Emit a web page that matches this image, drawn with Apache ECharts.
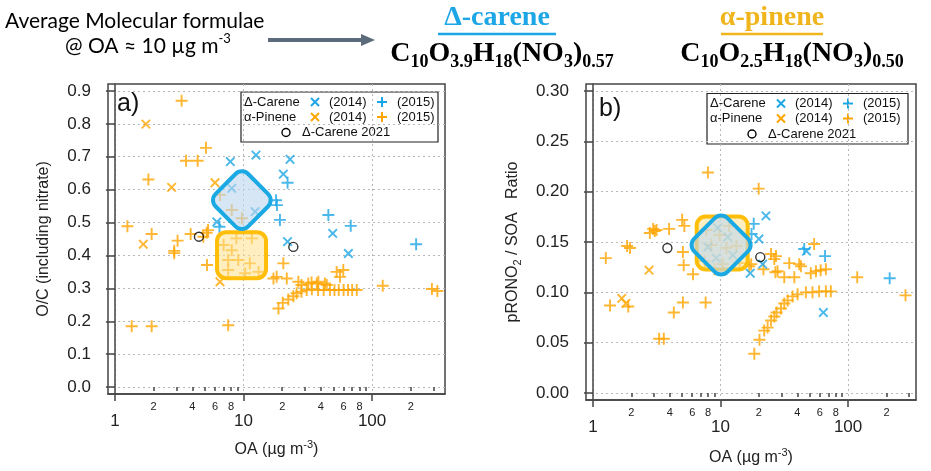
<!DOCTYPE html>
<html>
<head>
<meta charset="utf-8">
<title>O/C and pRONO2/SOA vs OA</title>
<script src="https://cdn.jsdelivr.net/npm/echarts@6/dist/echarts.min.js"></script>
<style>
  html, body { margin: 0; padding: 0; background: #fff; }
  #chart { width: 931px; height: 471px; }
</style>
</head>
<body>
<div id="chart"></div>
<script>
// ticks (OA axes are drawn in log10 space)
var majorTickOA = [1, 10, 100];
var minorTickOA = [2, 3, 4, 5, 6, 7, 8, 9, 20, 30, 40, 50, 60, 70, 80, 90, 200, 300];
var minorLabelOA = [2, 4, 6, 8, 20, 40, 60, 80, 200];
var ocTicks = [0, 0.1, 0.2, 0.3, 0.4, 0.5, 0.6, 0.7, 0.8, 0.9];
var ratioTicks = [0, 0.05, 0.1, 0.15, 0.2, 0.25, 0.3];

// panel a : O/C vs OA
var aCareneX2014 = [[7.9,0.685],[12.5,0.705],[20.4,0.647],[23,0.692],[8.1,0.604],[12.3,0.533],
  [6.2,0.502],[22,0.442],[49.4,0.467],[65.4,0.406]];
var aCareneP2015 = [[22,0.621],[17.9,0.568],[18.2,0.553],[19.2,0.508],[6.5,0.487],[45.7,0.523],
  [68.2,0.49],[220,0.434]];
var aPineneX2014 = [[1.74,0.799],[2.76,0.607],[6.0,0.621],[1.66,0.434],[6.56,0.32]];
var aPineneP2015 = [[3.3,0.87],[1.82,0.631],[5.1,0.727],[3.57,0.688],[4.4,0.688],[1.25,0.489],
  [1.93,0.465],[3.07,0.445],[3.88,0.465],[5.17,0.469],[4.87,0.457],[5.3,0.477],[2.89,0.414],
  [2.89,0.407],[5.2,0.371],[1.35,0.185],[1.93,0.185],[7.6,0.188],
  [6.56,0.584],[8.1,0.538],[9.7,0.513],
  [7.0,0.432],[8.1,0.416],[7.6,0.386],[9.1,0.386],[11.2,0.376],[7.6,0.356],[10.3,0.346],
  [13.1,0.35],[8.8,0.452],[11.6,0.452],
  [20.4,0.376],[18.1,0.335],[21.7,0.33],[17.1,0.33],[26.7,0.32],[28.2,0.31],[31.9,0.315],
  [33.8,0.318],[37.1,0.315],[38.2,0.32],[43,0.315],[44.4,0.31],[53,0.35],[59.7,0.356],[56.3,0.335],
  [18.7,0.239],[20.2,0.256],[22.3,0.266],[24.4,0.276],[25.9,0.285],[28.2,0.29],[31,0.295],[34,0.297],
  [38,0.295],[42,0.295],[47,0.295],[51,0.295],[55,0.295],[60,0.295],[65,0.295],[70,0.295],[76,0.295],
  [121,0.308],[292,0.298],[322,0.292]];
var aCarene2021 = [[4.5,0.457],[24.4,0.426]];
var aCareneAvg = [9.7, 0.568];
var aPineneAvg = [9.65, 0.401];

// panel b : pRONO2 / SOA ratio vs OA
var bCareneX2014 = [[22.7,0.176],[20,0.153],[21.4,0.128],[17.1,0.119],[47.2,0.141],[64,0.08],
  [7.96,0.145],[11.4,0.155],[12.5,0.137],[9.25,0.134],[9.5,0.164]];
var bCareneP2015 = [[18.2,0.168],[17.5,0.158],[45.3,0.143],[66,0.136],[212,0.114]];
var bPineneX2014 = [[2.75,0.122],[1.68,0.094],[1.81,0.089]];
var bPineneP2015 = [[7.96,0.219],[1.26,0.134],[1.85,0.146],[1.95,0.144],[2.79,0.159],[2.96,0.163],
  [3.05,0.161],[3.15,0.162],[3.95,0.163],[5.0,0.172],[5.2,0.166],[5.07,0.14],[5.14,0.127],[6.08,0.118],
  [1.36,0.087],[1.89,0.086],[3.3,0.054],[3.59,0.054],[4.3,0.08],[5.07,0.09],[7.64,0.09],
  [7.73,0.162],[9.82,0.157],[8.46,0.147],[11.1,0.144],[13.3,0.146],[7.5,0.131],[10.4,0.128],
  [14.1,0.129],[8.98,0.123],[11.7,0.166],
  [19.9,0.203],[17.4,0.128],[21.7,0.123],[24.9,0.138],[27.2,0.136],[26.4,0.133],[26.9,0.12],
  [31.6,0.115],[37.9,0.115],[34.6,0.129],[42.7,0.126],[54.2,0.148],[51,0.119],[56,0.121],[61,0.122],
  [67,0.123],[118,0.115],[282,0.097],[16.8,0.126],[28,0.121],[41.4,0.128],
  [18.4,0.039],[20.2,0.053],[22,0.062],[23.4,0.065],[24.9,0.072],[26.4,0.076],[27.5,0.08],[29.8,0.084],
  [31.6,0.089],[33.6,0.092],[36.7,0.096],[40.2,0.098],[46.7,0.1],[52.6,0.1],[59.3,0.101],[67,0.101],[73.3,0.101]];
var bCarene2021 = [[3.83,0.144],[20.5,0.135]];
var bCareneAvg = [10.1, 0.147];
var bPineneAvg = [10.3, 0.149];

var FONT = 'Liberation Sans';
var BLUE = '#1DA6E6', ORANGE = '#FFA500', GOLD = '#F0B41C';
var BOX_BLUE = '#1BA9E3', BOX_GOLD = '#FFBE0A';
var PLUS = 'path://M42,0h16v42h42v16h-42v42h-16v-42h-42v-16h42z';
var AX = {color: '#444', width: 1.5};
var GRIDLINE = {type: [2, 3], color: '#b8b8b8', width: 1};

function lg(pts) { return pts.map(function (p) { return [Math.log10(p[0]), p[1]]; }); }
function lg1(vals) { return vals.map(function (v) { return Math.log10(v); }); }

function scatter(grid, data, kind, color) {
  var s = {type: 'scatter', xAxisIndex: grid * 2, yAxisIndex: grid, data: lg(data),
    silent: true, animation: false, z: 3};
  if (kind === 'plus') {
    s.symbol = PLUS; s.symbolSize = 12; s.itemStyle = {color: color};
  } else if (kind === 'cross') {
    s.symbol = PLUS; s.symbolSize = 12; s.symbolRotate = 45; s.itemStyle = {color: color};
  } else {
    s.symbol = 'circle'; s.symbolSize = 9; s.z = 4;
    s.itemStyle = {color: 'rgba(0,0,0,0)', borderColor: '#000', borderWidth: 1.4};
  }
  return s;
}

// average-composition marker (rounded square, optionally turned 45 deg)
function avgShape(grid, center, w, h, rot, stroke, fill, z) {
  return {type: 'custom', xAxisIndex: grid * 2, yAxisIndex: grid, silent: true, animation: false,
    z: z, data: lg([center]),
    renderItem: function (params, api) {
      var c = api.coord([api.value(0), api.value(1)]);
      return {type: 'rect', x: c[0], y: c[1], rotation: rot,
        shape: {x: -w / 2, y: -h / 2, width: w, height: h, r: 9},
        style: {fill: fill, stroke: stroke, lineWidth: 4}};
    }};
}

// sub/superscripts: padding on top pushes a token down, on bottom pushes it up
var NAME_RICH = {
  n: {fontSize: 16, fontFamily: FONT, color: '#222'},
  sup: {fontSize: 11, fontFamily: FONT, color: '#222', padding: [0, 0, 11, 0]},
  sub: {fontSize: 11, fontFamily: FONT, color: '#222', padding: [10, 0, 0, 0]}
};

function xAxes(grid, min, max, nameGap) {
  var lmin = Math.log10(min), lmax = Math.log10(max);
  return [{
    gridIndex: grid, type: 'value', position: 'bottom', min: lmin, max: lmax,
    name: '{n|OA (µg m}{sup|-3}{n|)}', nameLocation: 'middle', nameGap: nameGap,
    nameTextStyle: {rich: NAME_RICH},
    axisLine: {show: true, onZero: false, lineStyle: AX},
    axisTick: {show: true, length: 7, customValues: lg1(majorTickOA), lineStyle: AX},
    axisLabel: {customValues: lg1(majorTickOA), fontSize: 17, fontFamily: FONT, color: '#222', margin: 19,
      formatter: function (v) { return String(Math.round(Math.pow(10, v))); }},
    splitLine: {show: true, lineStyle: GRIDLINE}
  }, {
    gridIndex: grid, type: 'value', position: 'bottom', min: lmin, max: lmax,
    axisLine: {show: false},
    axisTick: {show: true, length: 4, customValues: lg1(minorTickOA), lineStyle: AX},
    axisLabel: {customValues: lg1(minorLabelOA), fontSize: 11, fontFamily: FONT, color: '#222', margin: 7,
      formatter: function (v) { return String(Math.round(Math.pow(10, v))).charAt(0); }},
    splitLine: {show: false}
  }];
}

function yAxis(grid, min, max, ticks, digits, name, nameGap) {
  return {
    gridIndex: grid, type: 'value', min: min, max: max,
    name: name, nameLocation: 'middle', nameGap: nameGap,
    nameTextStyle: {rich: NAME_RICH},
    axisLine: {show: true, lineStyle: AX},
    axisTick: {show: true, length: 9, customValues: ticks, lineStyle: AX},
    axisLabel: {customValues: ticks, fontSize: 17, fontFamily: FONT, color: '#222', margin: 17,
      formatter: function (v) { return v.toFixed(digits); }},
    splitLine: {show: true, lineStyle: GRIDLINE}
  };
}

function legendBox(x, y, w, h) {
  var f = '13px ' + FONT;
  function t(s, tx, ty) {
    return {type: 'text', x: tx, y: ty, style: {text: s, font: f, fill: '#111', verticalAlign: 'middle'}};
  }
  function ln(x1, y1, x2, y2, col) {
    return {type: 'line', shape: {x1: x1, y1: y1, x2: x2, y2: y2}, style: {stroke: col, lineWidth: 2}};
  }
  function plus(cx, cy, col) { return [ln(cx - 5, cy, cx + 5, cy, col), ln(cx, cy - 5, cx, cy + 5, col)]; }
  function cross(cx, cy, col) { return [ln(cx - 4, cy - 4, cx + 4, cy + 4, col), ln(cx - 4, cy + 4, cx + 4, cy - 4, col)]; }
  var kids = [{type: 'rect', shape: {x: 0, y: 0, width: w, height: h},
    style: {fill: '#fff', stroke: '#222', lineWidth: 1.2}}];
  kids.push(t('Δ-Carene', 3, 10), t('(2014)', 88, 10), t('(2015)', 156, 10));
  kids = kids.concat(cross(74, 10, BLUE), plus(141, 10, BLUE));
  kids.push(t('α-Pinene', 3, 25), t('(2014)', 88, 25), t('(2015)', 156, 25));
  kids = kids.concat(cross(74, 25, ORANGE), plus(141, 25, ORANGE));
  kids.push({type: 'circle', shape: {cx: 45, cy: 40.5, r: 4}, style: {fill: 'none', stroke: '#000', lineWidth: 1.4}});
  kids.push(t('Δ-Carene 2021', 61, 40.5));
  return {type: 'group', x: x, y: y, z: 100, children: kids};
}

function formulaRich(color) {
  return {
    b: {fontSize: 28, fontWeight: 'bold', fontFamily: 'Liberation Serif', color: color},
    s: {fontSize: 18, fontWeight: 'bold', fontFamily: 'Liberation Serif', color: color, padding: [16, 0, 0, 0]}
  };
}

var chart = echarts.init(document.getElementById('chart'));
chart.setOption({
  animation: false,
  grid: [
    {left: 108, top: 84, width: 337, height: 310, show: true, borderColor: '#444', borderWidth: 1.5},
    {left: 586, top: 84, width: 330, height: 317, show: true, borderColor: '#444', borderWidth: 1.5}
  ],
  xAxis: xAxes(0, 0.883, 369, 45).concat(xAxes(1, 0.881, 341, 47)),
  yAxis: [
    yAxis(0, -0.021, 0.921, ocTicks, 1, '{n|O/C (including nitrate)}', 56),
    yAxis(1, -0.0069, 0.3069, ratioTicks, 2, '{n|pRONO}{sub|2}{n| / SOA   Ratio}', 63)
  ],
  series: [
    scatter(0, aPineneP2015, 'plus', ORANGE),
    scatter(0, aPineneX2014, 'cross', ORANGE),
    scatter(0, aCareneX2014, 'cross', BLUE),
    scatter(0, aCareneP2015, 'plus', BLUE),
    scatter(0, aCarene2021, 'circle'),
    avgShape(0, aPineneAvg, 49, 46, 0, BOX_GOLD, 'rgba(255,226,140,0.55)', 5),
    avgShape(0, aCareneAvg, 46, 46, Math.PI / 4, BOX_BLUE, 'rgba(190,214,238,0.62)', 6),
    scatter(1, bPineneP2015, 'plus', ORANGE),
    scatter(1, bPineneX2014, 'cross', ORANGE),
    scatter(1, bCareneX2014, 'cross', BLUE),
    scatter(1, bCareneP2015, 'plus', BLUE),
    scatter(1, bCarene2021, 'circle'),
    avgShape(1, bPineneAvg, 51, 53, 0, BOX_GOLD, 'rgba(255,226,140,0.55)', 5),
    avgShape(1, bCareneAvg, 47, 47, Math.PI / 4, BOX_BLUE, 'rgba(190,214,238,0.62)', 6)
  ],
  graphic: [
    {type: 'text', x: 5, y: 21, style: {text: 'Average Molecular formulae', font: '21px Lato', fill: '#000', verticalAlign: 'middle'}},
    {type: 'text', x: 65, y: 46, style: {verticalAlign: 'middle', text: '{n|@ OA ≈ 10 µg m}{sup|-3}', rich: {
      n: {fontSize: 21, fontFamily: 'Lato', color: '#000'},
      sup: {fontSize: 13, fontFamily: 'Lato', color: '#000', padding: [0, 0, 14, 0]}}}},
    {type: 'line', shape: {x1: 268, y1: 40, x2: 363, y2: 40}, style: {stroke: '#5B6B7B', lineWidth: 4}},
    {type: 'polygon', shape: {points: [[361, 34], [375, 40], [361, 46]]}, style: {fill: '#5B6B7B'}},
    {type: 'text', x: 497, y: 18, style: {text: 'Δ-carene', font: 'bold 28px Liberation Serif', fill: BLUE, align: 'center', verticalAlign: 'middle'}},
    {type: 'line', shape: {x1: 438, y1: 34, x2: 556, y2: 34}, style: {stroke: BLUE, lineWidth: 2.5}},
    {type: 'text', x: 502, y: 54, style: {align: 'center', verticalAlign: 'middle',
      text: '{b|C}{s|10}{b|O}{s|3.9}{b|H}{s|18}{b|(NO}{s|3}{b|)}{s|0.57}', rich: formulaRich(BLUE)}},
    {type: 'text', x: 772, y: 18, style: {text: 'α-pinene', font: 'bold 28px Liberation Serif', fill: GOLD, align: 'center', verticalAlign: 'middle'}},
    {type: 'line', shape: {x1: 721, y1: 34, x2: 823, y2: 34}, style: {stroke: GOLD, lineWidth: 2.5}},
    {type: 'text', x: 792, y: 54, style: {align: 'center', verticalAlign: 'middle',
      text: '{b|C}{s|10}{b|O}{s|2.5}{b|H}{s|18}{b|(NO}{s|3}{b|)}{s|0.50}', rich: formulaRich(GOLD)}},
    {type: 'text', x: 117, y: 104, z: 100, style: {text: 'a)', font: '25px ' + FONT, fill: '#111', verticalAlign: 'middle'}},
    {type: 'text', x: 599, y: 109, z: 100, style: {text: 'b)', font: '25px ' + FONT, fill: '#111', verticalAlign: 'middle'}},
    legendBox(241, 92, 197, 50),
    legendBox(707, 93.5, 201, 50.5)
  ]
});
</script>
</body>
</html>
